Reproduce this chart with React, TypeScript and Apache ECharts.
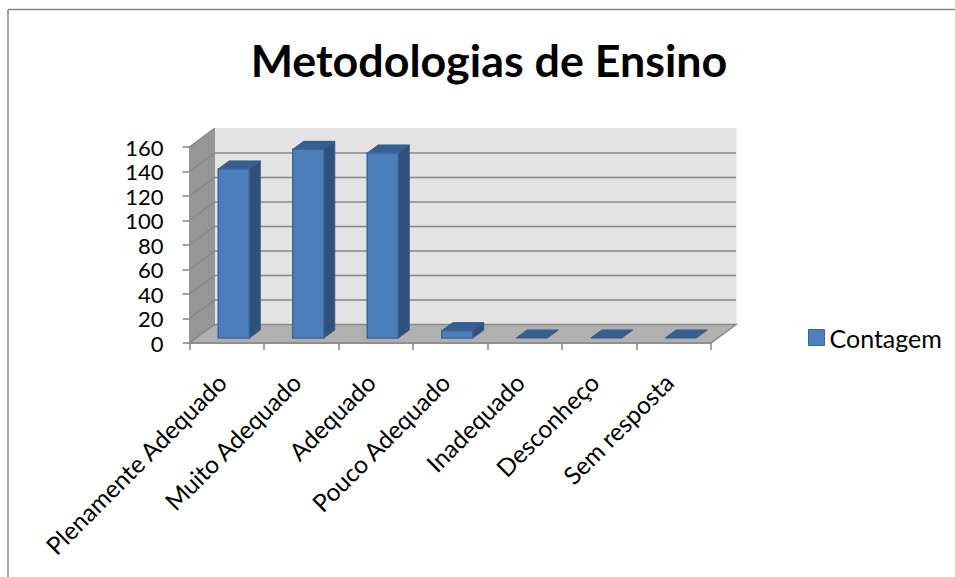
import React, { useEffect, useRef } from "react";
import * as echarts from "echarts";

const categories = ["Plenamente Adequado", "Muito Adequado", "Adequado", "Pouco Adequado", "Inadequado", "Desconheço", "Sem resposta"];
const contagem = [138, 154, 151, 6, 0, 0, 0];
const yTicks = [0, 20, 40, 60, 80, 100, 120, 140, 160];
const seriesName = "Contagem";
const titleText = "Metodologias de Ensino";

const FONT = "Lato, Carlito, Calibri, sans-serif";
const DX = 25;
const DY = -18.5;
const GRID = "#868686";

const poly = (points: number[][], fill: string, stroke?: string, lineWidth = 1) => ({
  type: "polygon",
  shape: { points },
  style: { fill, stroke: stroke ?? fill, lineWidth },
  silent: true,
});

const line = (points: number[][]) => ({
  type: "polyline",
  shape: { points },
  style: { fill: "none", stroke: GRID, lineWidth: 1.5 },
  silent: true,
});

export default function App() {
  const ref = useRef<HTMLDivElement>(null);

  useEffect(() => {
    const chart = echarts.init(ref.current!, undefined, { renderer: "svg" });

    const renderWalls = (_: any, api: any) => {
      const band = api.size([1, 0])[0];
      const left = api.coord([0, 0])[0] - band / 2;
      const right = api.coord([categories.length - 1, 0])[0] + band / 2;
      const y0 = api.coord([0, 0])[1];
      const yTop = api.coord([0, yTicks[yTicks.length - 1]])[1];
      const children: any[] = [
        poly([[left + DX, yTop + DY], [right + DX, yTop + DY], [right + DX, y0 + DY], [left + DX, y0 + DY]], "#E3E3E3"),
        poly([[left, yTop], [left + DX, yTop + DY], [left + DX, y0 + DY], [left, y0]], "#969696"),
        poly([[left, y0], [left + DX, y0 + DY], [right + DX, y0 + DY], [right, y0]], "#B0B0B0", GRID, 1.5),
      ];
      yTicks.forEach((t) => {
        const y = api.coord([0, t])[1];
        if (t > 0 && t < yTicks[yTicks.length - 1]) {
          children.push(line([[left, y], [left + DX, y + DY], [right + DX, y + DY]]));
        } else if (t > 0) {
          children.push(line([[left, y], [left + DX, y + DY]]));
        }
      });
      return { type: "group", children };
    };

    const renderBar = (_: any, api: any) => {
      const idx = api.value(0);
      const val = api.value(1);
      const [cx, y0] = api.coord([idx, 0]);
      const yv = api.coord([idx, val])[1];
      const w = 31;
      const dx = 11;
      const dy = -8;
      const x1 = cx - 8.5;
      const x2 = x1 + w;
      const base = y0 - 5;
      const top = base - (y0 - yv);
      const topFace = poly([[x1, top], [x1 + dx, top + dy], [x2 + dx, top + dy], [x2, top]], "#365F91", "#34598A", 1);
      if (val === 0) return { type: "group", children: [topFace] };
      return {
        type: "group",
        children: [
          poly([[x2, base], [x2 + dx, base + dy], [x2 + dx, top + dy], [x2, top]], "#31507A", "#34598A", 1),
          topFace,
          poly([[x1, base], [x2, base], [x2, top], [x1, top]], "#4C7EBB", "#3A659B", 1.5),
        ],
      };
    };

    chart.setOption({
      animation: false,
      backgroundColor: "#FFFFFF",
      textStyle: { fontFamily: FONT },
      title: {
        text: titleText,
        left: 484,
        top: 32,
        textAlign: "center",
        textStyle: { fontFamily: FONT, fontSize: 44.8, fontWeight: "bold", color: "#000000" },
      },
      legend: {
        show: true,
        data: [{ name: seriesName, icon: "rect", itemStyle: { color: "#4F81BD", borderColor: "#3A659B", borderWidth: 1 } }],
        left: 808,
        top: 325,
        itemWidth: 16,
        itemHeight: 16,
        itemGap: 6,
        textStyle: { fontFamily: FONT, fontSize: 25, color: "#000000", padding: [0, 0, 0, 0] },
        padding: 0,
      },
      grid: { left: 189.5, right: 244, top: 147, bottom: 234, containLabel: false },
      xAxis: {
        type: "category",
        data: categories,
        axisLine: { show: true, lineStyle: { color: GRID, width: 1.5 } },
        axisTick: { show: true, length: 7, alignWithLabel: false, lineStyle: { color: GRID, width: 1.5 } },
        axisLabel: { interval: 0, rotate: 45, margin: 30, padding: [0, 7, 0, 0], fontFamily: FONT, fontSize: 24.5, color: "#000000" },
      },
      yAxis: {
        type: "value",
        min: 0,
        max: 160,
        interval: 20,
        axisLine: { show: true, lineStyle: { color: GRID, width: 1.5 } },
        axisTick: { show: true, length: 7, lineStyle: { color: GRID, width: 1.5 } },
        axisLabel: { margin: 26, fontFamily: FONT, fontSize: 22, lineHeight: 22, color: "#000000" },
        splitLine: { show: false },
      },
      graphic: [
        { type: "line", shape: { x1: 8, y1: 9.5, x2: 955, y2: 9.5 }, style: { stroke: "#868686", lineWidth: 1.5 }, silent: true },
        { type: "line", shape: { x1: 8, y1: 9.5, x2: 8, y2: 577 }, style: { stroke: "#868686", lineWidth: 1.5 }, silent: true },
      ],
      series: [
        {
          type: "custom",
          name: "Paredes",
          renderItem: renderWalls,
          data: [[0, 0]],
          encode: { x: 0, y: 1 },
          silent: true,
          z: 1,
          clip: false,
        },
        {
          type: "custom",
          name: seriesName,
          renderItem: renderBar,
          data: contagem.map((v, i) => [i, v]),
          encode: { x: 0, y: 1 },
          itemStyle: { color: "#4F81BD" },
          z: 3,
          clip: false,
        },
      ],
    });

    return () => chart.dispose();
  }, []);

  return <div ref={ref} style={{ position: "absolute", left: 0, top: 0, width: 955, height: 577 }} />;
}
